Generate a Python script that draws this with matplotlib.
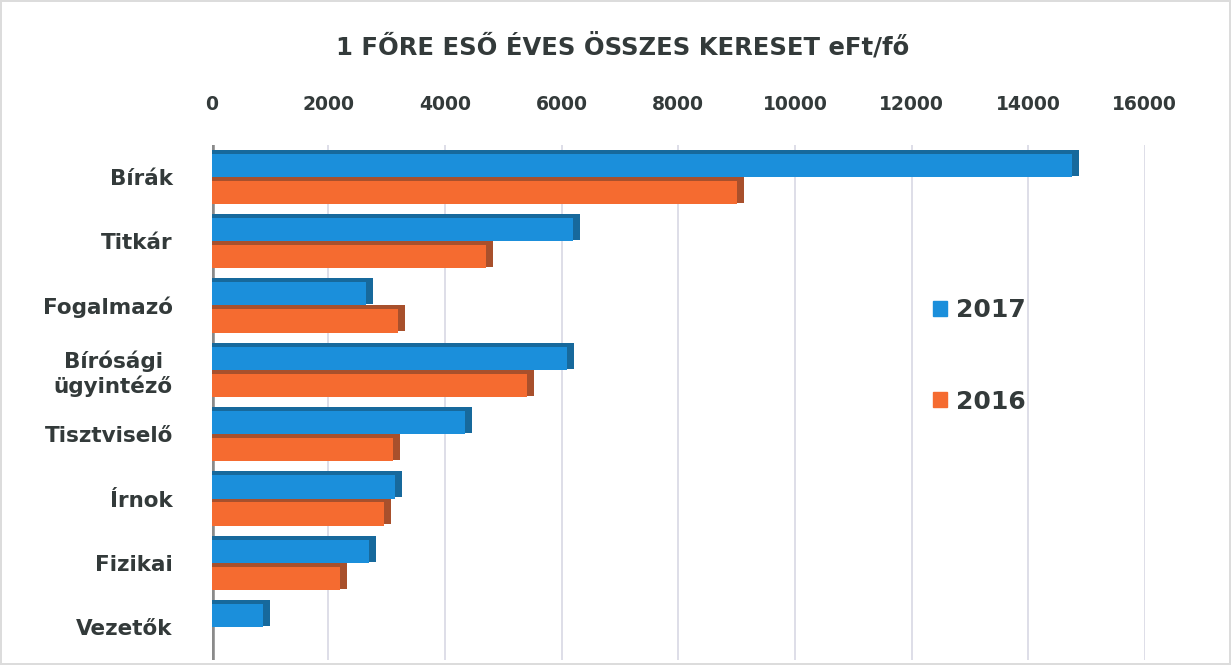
import matplotlib.pyplot as plt
from matplotlib.patches import Patch
import numpy as np

categories = ["Bírák", "Titkár", "Fogalmazó", "Bírósági\nügyintéző",
              "Tisztviselő", "Írnok", "Fizikai", "Vezetők"]
values_2017 = [14750, 6200, 2650, 6100, 4350, 3150, 2700, 880]
values_2016 = [9000, 4700, 3200, 5400, 3100, 2950, 2200, 0]
xticks = [0, 2000, 4000, 6000, 8000, 10000, 12000, 14000, 16000]

blue = "#1b8fdb"
blue_dark = "#17699c"
orange = "#f56b30"
orange_dark = "#a8502c"
text_color = "#333a3a"

fig = plt.figure(figsize=(12.31, 6.65), dpi=100)
fig.patch.set_edgecolor("#dcdcdc")
fig.patch.set_linewidth(1.5)
ax = fig.add_axes([0.172, 0.0075, 0.758, 0.775])

y = np.arange(len(categories))
h = 0.42

# main bars
ax.barh(y - h / 2, values_2017, height=h, color=blue, zorder=3)
ax.barh(y + h / 2, values_2016, height=h, color=orange, zorder=3)

# fake 3d: darker top edge and end cap
for vals, yy, dark in [(values_2017, y - h / 2, blue_dark), (values_2016, y + h / 2, orange_dark)]:
    vals = np.array(vals)
    mask = vals > 0
    ax.barh(yy[mask] - h / 2 + 0.03, vals[mask] + 120, height=0.06, color=dark, zorder=4)
    ax.barh(yy[mask], 120, left=vals[mask], height=h - 0.04, color=dark, zorder=4)

ax.set_xlim(0, 16000)
ax.set_ylim(len(categories) - 0.49, -0.5)
ax.set_xticks(xticks)
ax.set_xticklabels([str(t) for t in xticks])
ax.xaxis.tick_top()
ax.tick_params(axis="x", length=0, pad=22, labelsize=13.5, labelcolor=text_color)
ax.tick_params(axis="y", length=0, pad=28, labelsize=15.5, labelcolor=text_color)
ax.set_yticks(y)
ax.set_yticklabels(categories, fontweight="bold", multialignment="center")
for lbl in ax.get_xticklabels():
    lbl.set_fontweight("bold")

ax.grid(axis="x", color="#d8d8e4", linewidth=1.2, zorder=0)
ax.axvline(0, color="#8a8a8a", linewidth=4, zorder=2)
for s in ax.spines.values():
    s.set_visible(False)

handles = [Patch(color=blue, label="2017"), Patch(color=orange, label="2016")]
leg = fig.legend(handles=handles, loc="center left", bbox_to_anchor=(0.74, 0.465),
                 frameon=False, handlelength=0.55, handleheight=0.55, handletextpad=0.35,
                 labelspacing=2.7, prop={"weight": "bold", "size": 18})
for t in leg.get_texts():
    t.set_color(text_color)

fig.text(0.506, 0.93, "1 FŐRE ESŐ ÉVES ÖSSZES KERESET eFt/fő", ha="center", va="center",
         fontsize=17.5, fontweight="bold", color=text_color)

fig.savefig("out.png", dpi=100)
